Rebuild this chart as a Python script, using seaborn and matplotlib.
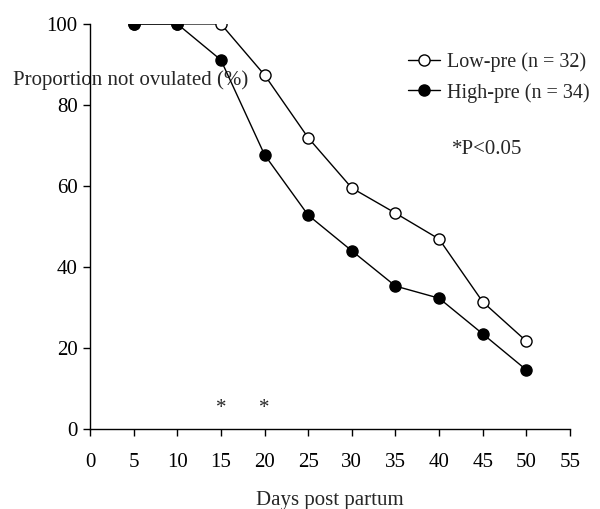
import pandas as pd
import matplotlib
matplotlib.use("Agg")
import matplotlib.pyplot as plt
import seaborn as sns

days = [5, 10, 15, 20, 25, 30, 35, 40, 45, 50]
low_pre = [100, 100, 100, 87.4, 71.9, 59.5, 53.3, 46.9, 31.4, 21.7]
high_pre = [100, 100, 91.1, 67.7, 52.8, 44.0, 35.3, 32.3, 23.5, 14.6]
sig_days = [15, 20]
x_ticks = list(range(0, 60, 5))
y_ticks = [0, 20, 40, 60, 80, 100]

sns.set_style("ticks")
plt.rcParams['font.family'] = ['Liberation Serif', 'DejaVu Serif']
fs = 15

df = pd.DataFrame({
    "Days": days * 2,
    "Value": low_pre + high_pre,
    "Group": ["Low-pre (n = 32)"] * len(days) + ["High-pre (n = 34)"] * len(days),
})

fig = plt.figure(figsize=(6, 5.09), dpi=100)
ax = fig.add_axes([0.15, 0.157, 0.80, 0.796])

sns.lineplot(data=df[df["Group"].str.startswith("Low")], x="Days", y="Value",
             color="black", linewidth=1, marker="o", markersize=8,
             markerfacecolor="white", markeredgecolor="black", markeredgewidth=1,
             label="Low-pre (n = 32)", ax=ax)
sns.lineplot(data=df[df["Group"].str.startswith("High")], x="Days", y="Value",
             color="black", linewidth=1, marker="o", markersize=8,
             markerfacecolor="black", markeredgecolor="black", markeredgewidth=1,
             label="High-pre (n = 34)", ax=ax)

ax.set_xlim(0, 55)
ax.set_ylim(0, 100)
ax.set_xticks(x_ticks)
ax.set_yticks(y_ticks)
ax.tick_params(direction="out", length=5, width=1, colors="black", labelsize=fs, pad=4)
ax.tick_params(axis="x", pad=12)
sns.despine(ax=ax)
for s in ["left", "bottom"]:
    ax.spines[s].set_linewidth(1)
    ax.spines[s].set_color("black")

ax.set_xlabel("Days post partum", fontsize=fs, labelpad=14)
ax.set_ylabel("Proportion not ovulated (%)", fontsize=fs, rotation=0,
              ha="center", va="center")
ax.yaxis.set_label_coords(0.085, 0.862)

for d in sig_days:
    ax.text(d, 5.2, "*", ha="center", va="center", fontsize=fs)
ax.text(0.754, 0.691, "*P<0.05", transform=ax.transAxes, ha="left", va="center",
        fontsize=fs)

ax.legend(loc="upper left", bbox_to_anchor=(408 / 600, 1 - 52 / 509),
          bbox_transform=fig.transFigure, frameon=False, handlelength=1.6,
          handletextpad=0.35, labelspacing=0.55, borderpad=0, borderaxespad=0,
          fontsize=14.5)

fig.savefig("out.png", dpi=100)
